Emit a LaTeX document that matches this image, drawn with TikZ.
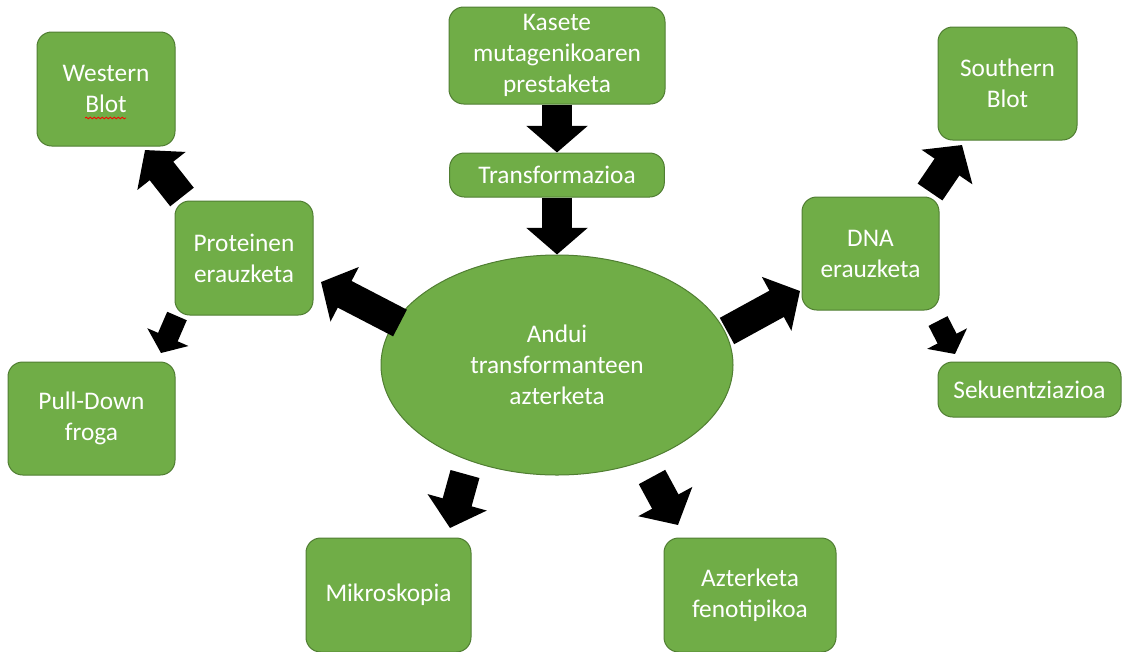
\documentclass[tikz,border=0pt]{standalone}
\usepackage{fontspec}
\setmainfont{Carlito}
\usetikzlibrary{arrows.meta,shapes.geometric,decorations.pathmorphing}
\definecolor{gfill}{HTML}{70AD47}
\definecolor{gdraw}{HTML}{507E32}
\begin{document}
\begin{tikzpicture}[x=0.75pt,y=-0.75pt,
  box/.style={draw=gdraw,fill=gfill,line width=0.75pt,rounded corners=11pt,
    text=white,align=center,font=\fontsize{19}{23.25}\selectfont,inner sep=0pt},
  oval/.style={ellipse,draw=gdraw,fill=gfill,line width=0.75pt,
    text=white,align=center,font=\fontsize{19}{23.25}\selectfont,inner sep=0pt},
  bigarrow/.style={line width=22.5pt,-{Triangle[width=45pt,length=20pt]}},
  smallarrow/.style={line width=16pt,-{Triangle[width=33pt,length=13pt]}}]
\clip (0,0) rectangle (1123,651);
\useasboundingbox (0,0) rectangle (1123,651);

\node[box,minimum width=103.5pt,minimum height=85.5pt] (west) at (106,89) {Western\\Blot};
\node[box,minimum width=162pt,minimum height=72.75pt] (kas) at (557,55.5) {Kasete\\mutagenikoaren\\prestaketa};
\node[box,minimum width=161pt,minimum height=33pt] (tr) at (557,175) {Transformazioa};
\node[box,minimum width=104.25pt,minimum height=84.75pt] (south) at (1007.5,83.5) {Southern\\Blot};
\node[box,minimum width=103.5pt,minimum height=85.5pt] (prot) at (244,258) {Proteinen\\erauzketa};
\node[box,minimum width=102.75pt,minimum height=84.75pt] (dna) at (870.5,253.5) {DNA\\erauzketa};
\node[box,minimum width=137.25pt,minimum height=41.25pt] (sek) at (1029.5,389.5) {Sekuentziazioa};
\node[box,minimum width=125.25pt,minimum height=84.75pt] (pull) at (91.5,418.5) {Pull-Down\\froga};
\node[box,minimum width=123.75pt,minimum height=85.5pt] (mik) at (388.5,595) {Mikroskopia};
\node[box,minimum width=129pt,minimum height=85.5pt] (azt) at (750,595) {Azterketa\\fenotipikoa};
\node[oval,minimum width=264pt,minimum height=165pt] (ell) at (557,365) {Andui\\transformanteen\\azterketa};

% spell-check squiggle under "Blot"
\draw[red,line width=0.6pt,decorate,decoration={snake,amplitude=0.6pt,segment length=3pt}] (85,118) -- (126,118);

% arrow end points
\coordinate (pA) at (400,323); \coordinate (pB) at (321,282);
\coordinate (wA) at (182,197); \coordinate (wB) at (145,150);
\coordinate (uA) at (177,316); \coordinate (uB) at (161,353);
\coordinate (dA) at (727,331); \coordinate (dB) at (800,291);
\coordinate (sA) at (930,192); \coordinate (sB) at (962,145);
\coordinate (qA) at (938,321); \coordinate (qB) at (955,354);
\coordinate (mA) at (465,474); \coordinate (mB) at (450,528);
\coordinate (zA) at (652,477); \coordinate (zB) at (678,525);

\draw[bigarrow] (kas.south) -- (tr.north);
\draw[bigarrow] (tr.south) -- (ell.north);
\draw[bigarrow] (pA) -- (pB);
\draw[bigarrow] (wA) -- (wB);
\draw[smallarrow] (uA) -- (uB);
\draw[bigarrow] (dA) -- (dB);
\draw[bigarrow] (sA) -- (sB);
\draw[smallarrow] (qA) -- (qB);
\draw[bigarrow] (mA) -- (mB);
\draw[bigarrow] (zA) -- (zB);
\end{tikzpicture}
\end{document}
